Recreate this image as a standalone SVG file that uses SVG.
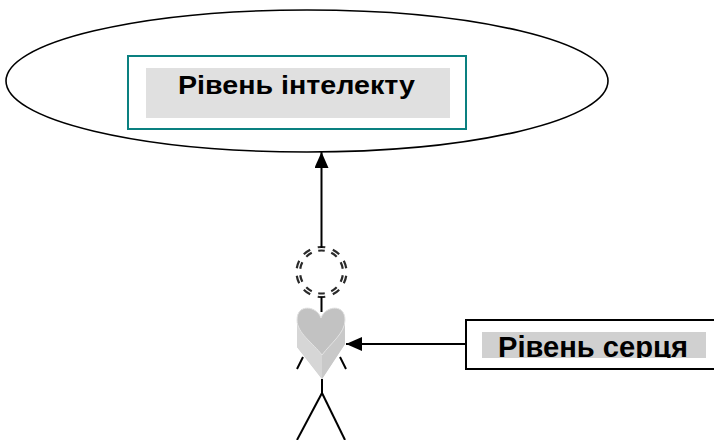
<svg xmlns="http://www.w3.org/2000/svg" width="714" height="440" viewBox="0 0 714 440">
  <style>
    .label { font-family: "Liberation Sans", Arial, sans-serif; font-weight: bold; fill: #000; }
    .line { stroke: #000; stroke-width: 2; fill: none; }
    .limb { stroke: #000; stroke-width: 2; fill: none; stroke-linecap: butt; }
    .halo { stroke: #2a2a2a; stroke-width: 2.2; fill: none; stroke-dasharray: 8 8; stroke-dashoffset: 12; }
  </style>
  <defs>
    <marker id="arrow" viewBox="0 0 16 14" refX="16" refY="7" markerWidth="16" markerHeight="14" markerUnits="userSpaceOnUse" orient="auto">
      <path d="M0,0 L16,7 L0,14 Z" fill="#000"/>
    </marker>
    <clipPath id="heartLabelClip">
      <rect x="482" y="332" width="224" height="26"/>
    </clipPath>
  </defs>

  <!-- intellect level: ellipse with framed caption -->
  <g id="intellect">
    <ellipse cx="307" cy="81" rx="301" ry="71" fill="#fff" stroke="#000" stroke-width="1.6"/>
    <rect x="128" y="56" width="338" height="73" fill="#fff" stroke="#0a8080" stroke-width="2"/>
    <rect x="146" y="68" width="304" height="50" fill="#e0e0e0"/>
    <text class="label" x="178" y="94" font-size="26" textLength="237" lengthAdjust="spacingAndGlyphs">Рівень інтелекту</text>
  </g>

  <!-- heart level caption box -->
  <g id="heart-level">
    <rect x="466" y="320" width="260" height="49" fill="#fff" stroke="#000" stroke-width="2"/>
    <rect x="482" y="332" width="224" height="26" fill="#d0d0d0"/>
    <g clip-path="url(#heartLabelClip)">
      <text class="label" x="498" y="357" font-size="29" textLength="190" lengthAdjust="spacingAndGlyphs">Рівень серця</text>
    </g>
  </g>

  <!-- figure: dashed double halo, heart body, arms and legs -->
  <g id="figure">
    <circle class="halo" cx="321.5" cy="272" r="25" pathLength="160"/>
    <circle class="halo" cx="321.5" cy="272" r="21.5" pathLength="160"/>
    <line class="limb" x1="321.5" y1="297" x2="321.5" y2="312"/>
    <!-- heart silhouette -->
    <path d="M321,318 C317,306 297,303 297,320 L297,347 L322,379 L345,344 L345,320 C345,303 325,306 321,318 Z" fill="#cdcdcd"/>
    <!-- left side face -->
    <path d="M297,320 C297,333 313,343 322,355 L322,379 L297,347 Z" fill="#d6d6d6"/>
    <!-- right side face -->
    <path d="M345,320 C345,333 331,343 322,355 L322,379 L345,344 Z" fill="#c9c9c9"/>
    <!-- top face -->
    <path d="M321,318 C317,306 297,303 297,320 C297,333 313,343 322,355 C331,343 345,333 345,320 C345,303 325,306 321,318 Z" fill="#c2c2c2" stroke="#e4e4e4" stroke-width="1"/>
    <line class="limb" x1="297" y1="369" x2="303" y2="357"/>
    <line class="limb" x1="340" y1="357" x2="346" y2="369"/>
    <line class="limb" x1="322" y1="379" x2="322" y2="393"/>
    <line class="limb" x1="322" y1="393" x2="297" y2="440"/>
    <line class="limb" x1="322" y1="393" x2="345" y2="440"/>
  </g>

  <!-- connectors -->
  <g id="connectors">
    <line class="line" x1="321.5" y1="248" x2="321.5" y2="152" marker-end="url(#arrow)"/>
    <line class="line" x1="466" y1="344" x2="346" y2="344" marker-end="url(#arrow)"/>
  </g>
</svg>
